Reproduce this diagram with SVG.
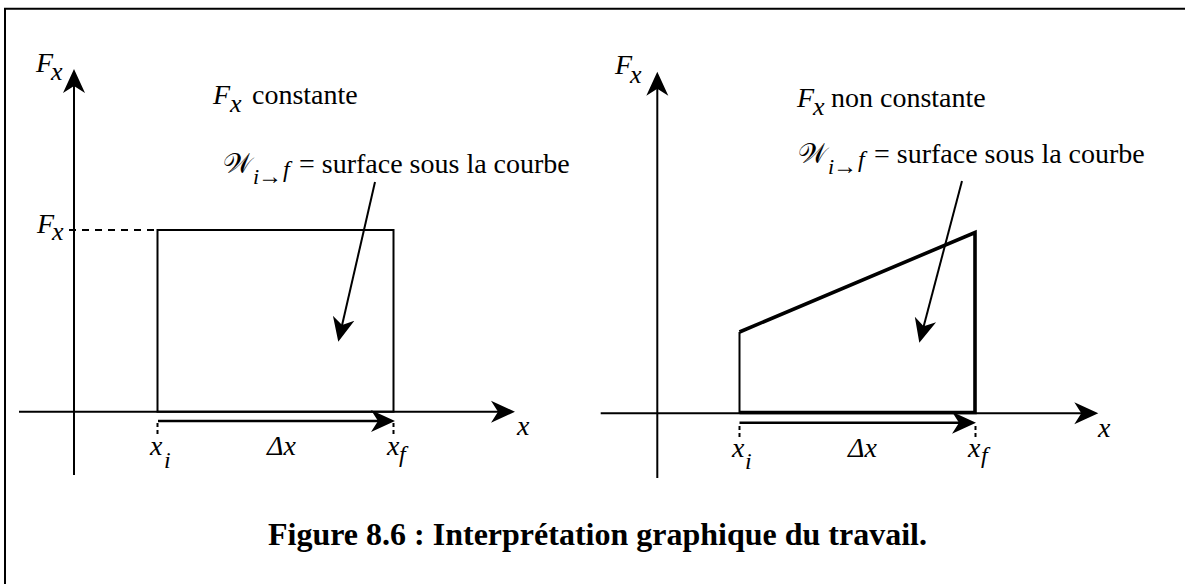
<svg xmlns="http://www.w3.org/2000/svg" width="1185" height="584" viewBox="0 0 1185 584">
<style>
.t{font-family:"Liberation Serif","Times New Roman",serif;fill:#000}
.i{font-style:italic}
.m{font-size:28px}
.s{font-size:24px}
.ln{stroke:#000;stroke-width:2;fill:none}
.thk{stroke:#000;stroke-width:3.6;fill:none;stroke-linejoin:miter}
.dash{stroke:#000;stroke-width:2;stroke-dasharray:7 6;fill:none}
.tick{stroke:#000;stroke-width:2;stroke-dasharray:4 3;fill:none}
.arr{stroke:#000;stroke-width:2;fill:none;marker-end:url(#ah)}
.arr2{stroke:#000;stroke-width:2.6;fill:none;marker-end:url(#ah)}
</style>
<defs>
<marker id="ah" markerUnits="userSpaceOnUse" viewBox="0 0 25 24" markerWidth="25" markerHeight="24" refX="19" refY="12" orient="auto">
<path d="M24,12 L0,1 L7,12 L0,23 Z" fill="#000"/>
</marker>
</defs>
<rect width="1185" height="584" fill="#fff"/>
<g id="frame">
<path d="M5,584 L5,8.7 L1185,8.7" class="ln" stroke-width="2.6"/>
</g>
<g id="left-plot">
<rect x="157.5" y="230" width="236" height="181.7" class="ln"/>
<line x1="69" y1="230" x2="156" y2="230" class="dash"/>
<line x1="157.5" y1="423" x2="157.5" y2="436" class="tick"/>
<line x1="393.5" y1="423" x2="393.5" y2="436" class="tick"/>
<text class="t i m" x="36" y="72">F</text><text class="t i" font-size="26" x="51" y="80">x</text>
<text class="t i m" x="37" y="233">F</text><text class="t i" font-size="26" x="52" y="240">x</text>
<text class="t i m" x="213" y="104">F</text><text class="t i" font-size="26" x="230" y="112">x</text>
<text class="t m" x="252" y="104">constante</text>
<text class="t m" x="223" y="173">𝒲</text>
<text class="t i" font-size="22" x="253" y="184">i</text><text class="t" font-size="24" font-weight="bold" x="258" y="184">→</text>
<text class="t i s" x="283" y="177">f</text>
<text class="t m" x="299" y="173">= surface sous la courbe</text>
<text class="t i m" x="150" y="455">x</text><text class="t i s" x="164" y="468">i</text>
<text class="t i m" x="267" y="455">Δx</text>
<text class="t i m" x="387" y="455">x</text><text class="t i s" x="399" y="462">f</text>
<text class="t i m" x="517" y="435">x</text>
</g>
<g id="right-plot">
<line x1="739.5" y1="413" x2="739.5" y2="332" class="ln"/>
<path d="M739.5,332 L975,232.5 L975,412.5 L739.5,412.5" class="thk"/>
<line x1="739.5" y1="426" x2="739.5" y2="437" class="tick"/>
<line x1="975.5" y1="426" x2="975.5" y2="437" class="tick"/>
<text class="t i m" x="615" y="74">F</text><text class="t i" font-size="26" x="630" y="83">x</text>
<text class="t i m" x="797" y="107">F</text><text class="t i" font-size="26" x="813" y="115">x</text>
<text class="t m" x="831" y="107">non constante</text>
<text class="t m" x="798" y="163">𝒲</text>
<text class="t i" font-size="22" x="828" y="174">i</text><text class="t" font-size="24" font-weight="bold" x="833" y="174">→</text>
<text class="t i s" x="858" y="167">f</text>
<text class="t m" x="874" y="163">= surface sous la courbe</text>
<text class="t i m" x="732" y="457">x</text><text class="t i s" x="745" y="469">i</text>
<text class="t i m" x="848" y="457">Δx</text>
<text class="t i m" x="968" y="457">x</text><text class="t i s" x="981" y="463">f</text>
<text class="t i m" x="1098" y="437">x</text>
</g>
<g id="connectors">
<line x1="74" y1="475" x2="74" y2="74" class="arr"/>
<line x1="19" y1="411.7" x2="510" y2="411.7" class="arr"/>
<line x1="158" y1="421" x2="390" y2="421" class="arr2"/>
<line x1="375" y1="182" x2="339.4" y2="336.8" class="arr"/>
<line x1="657.3" y1="478" x2="657.3" y2="76.7" class="arr"/>
<line x1="600.7" y1="413.3" x2="1093.3" y2="413.3" class="arr"/>
<line x1="739.5" y1="422.7" x2="971" y2="422.7" class="arr2"/>
<line x1="962" y1="181" x2="920.6" y2="337.9" class="arr"/>
</g>
<g id="caption">
<text class="t" font-size="32" font-weight="bold" x="268" y="545">Figure 8.6 : Interprétation graphique du travail.</text>
</g>
</svg>
